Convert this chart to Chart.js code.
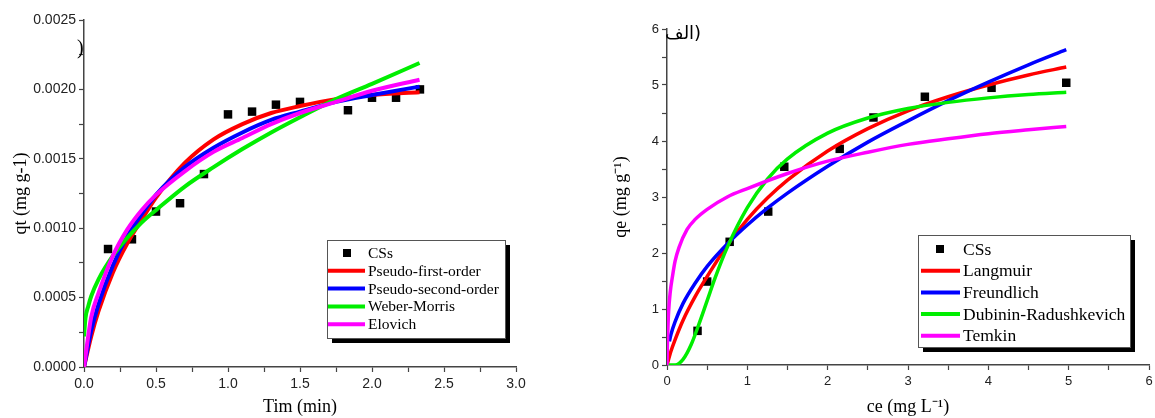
<!DOCTYPE html>
<html>
<head>
<meta charset="utf-8">
<script src="https://cdn.jsdelivr.net/npm/chart.js@4.4.0/dist/chart.umd.min.js"></script>
<style>
  html, body { margin: 0; padding: 0; background: #fff; }
  body { width: 1155px; height: 418px; position: relative; overflow: hidden; }
  #kinChart { position: absolute; left: 0; top: 0; }
  #isoChart { position: absolute; left: 580px; top: 0; }
</style>
</head>
<body>
<canvas id="kinChart" width="560" height="418"></canvas>
<canvas id="isoChart" width="575" height="418"></canvas>
<script>
// ---- kinetics (left) ----
const kinTime = [0.167, 0.333, 0.5, 0.667, 0.833, 1.0, 1.167, 1.333, 1.5, 1.833, 2.0, 2.167, 2.333];
const kinQt = [0.00085, 0.00092, 0.00112, 0.00118, 0.00139, 0.00182, 0.00184, 0.00189, 0.00191, 0.00185, 0.00194, 0.00194, 0.00200];

const fitTime = [0, 0.05, 0.1, 0.2, 0.3, 0.4, 0.5, 0.7, 0.9, 1.1, 1.3, 1.5, 1.75, 2.0, 2.33];
const pfoQt = [0, 0.00022, 0.00040, 0.00068, 0.00089, 0.00106, 0.00122, 0.00147, 0.00164, 0.00175, 0.00183, 0.00188, 0.00193, 0.00196, 0.00198];
const psoQt = [0, 0.00026, 0.00045, 0.00073, 0.00094, 0.00110, 0.00124, 0.00144, 0.00158, 0.00169, 0.00178, 0.00184, 0.00191, 0.00196, 0.00202];
const elovichQt = [0, 0.00036, 0.00053, 0.00080, 0.00099, 0.00113, 0.00124, 0.00141, 0.00155, 0.00165, 0.00175, 0.00183, 0.00191, 0.00199, 0.00207];
const wmTime = [0, 0.01, 0.03, 0.05, 0.1, 0.2, 0.3, 0.4, 0.5, 0.7, 0.9, 1.1, 1.3, 1.5, 1.75, 2.0, 2.33];
const wmQt = [0.00022, 0.00035, 0.00044, 0.00051, 0.00063, 0.00080, 0.00093, 0.00104, 0.00113, 0.00130, 0.00144, 0.00157, 0.00169, 0.00180, 0.00193, 0.00204, 0.00219];

// ---- isotherms (right) ----
const isoCe = [0.38, 0.5, 0.78, 1.26, 1.46, 2.15, 2.57, 3.21, 4.04, 4.97];
const isoQe = [0.61, 1.49, 2.2, 2.74, 3.54, 3.86, 4.42, 4.79, 4.95, 5.04];

const lgCe = [0, 0.05, 0.1, 0.2, 0.35, 0.5, 0.75, 1, 1.25, 1.5, 2, 2.5, 3, 3.5, 4, 4.5, 4.97];
const lgQe = [0, 0.25, 0.45, 0.8, 1.22, 1.58, 2.14, 2.6, 2.98, 3.3, 3.82, 4.22, 4.54, 4.79, 5.0, 5.18, 5.32];
const frCe = [0.03, 0.05, 0.1, 0.2, 0.35, 0.5, 0.75, 1, 1.25, 1.5, 2, 2.5, 3, 3.5, 4, 4.5, 4.97];
const frQe = [0.42, 0.55, 0.77, 1.10, 1.46, 1.76, 2.16, 2.50, 2.80, 3.07, 3.55, 3.98, 4.36, 4.72, 5.05, 5.36, 5.63];
const drCe = [0, 0.1, 0.2, 0.3, 0.4, 0.5, 0.6, 0.75, 1, 1.25, 1.5, 2, 2.5, 3, 3.5, 4, 4.5, 4.97];
const drQe = [0, 0.0, 0.1, 0.36, 0.74, 1.15, 1.56, 2.10, 2.81, 3.32, 3.68, 4.14, 4.41, 4.58, 4.69, 4.77, 4.83, 4.87];
const tkCe = [0, 0.005, 0.01, 0.02, 0.04, 0.07, 0.1, 0.15, 0.25, 0.35, 0.5, 0.75, 1, 1.5, 2, 2.5, 3, 3.5, 4, 4.5, 4.97];
const tkQe = [0, 0.35, 0.6, 0.95, 1.3, 1.6, 1.85, 2.1, 2.42, 2.6, 2.78, 3.0, 3.15, 3.42, 3.64, 3.8, 3.94, 4.04, 4.13, 4.2, 4.26];

function pts(xs, ys) {
  return xs.map((x, i) => ({ x: x, y: ys[i] }));
}

function curve(label, xs, ys, color, order, width) {
  return {
    label: label,
    data: pts(xs, ys),
    showLine: true,
    borderColor: color,
    borderWidth: width,
    pointRadius: 0,
    cubicInterpolationMode: 'monotone',
    order: order
  };
}

function markers(label, xs, ys) {
  return {
    label: label,
    data: pts(xs, ys),
    showLine: false,
    pointStyle: 'rect',
    pointRadius: 6,
    backgroundColor: '#000',
    borderWidth: 0,
    order: 10
  };
}

// legend box with drop shadow, drawn inside plot
const boxLegend = {
  id: 'boxLegend',
  afterDraw(chart, args, o) {
    const ctx = chart.ctx;
    ctx.save();
    ctx.fillStyle = '#000';
    ctx.fillRect(o.x + 5, o.y + 5, o.w, o.h);
    ctx.fillStyle = '#fff';
    ctx.fillRect(o.x, o.y, o.w, o.h);
    ctx.strokeStyle = '#555';
    ctx.lineWidth = 1;
    ctx.strokeRect(o.x + 0.5, o.y + 0.5, o.w, o.h);
    ctx.font = o.font;
    ctx.textBaseline = 'middle';
    // markers first in legend, then curves in dataset order
    const list = chart.data.datasets.slice().sort((a, b) => (a.showLine ? 1 : 0) - (b.showLine ? 1 : 0));
    list.forEach((ds, i) => {
      const cy = o.y + o.first + i * o.rowH;
      if (ds.showLine) {
        ctx.strokeStyle = ds.borderColor;
        ctx.lineWidth = 4;
        ctx.beginPath();
        ctx.moveTo(o.x + o.sw0, cy);
        ctx.lineTo(o.x + o.sw1, cy);
        ctx.stroke();
      } else {
        ctx.fillStyle = '#000';
        ctx.fillRect(o.x + o.mark - 4, cy - 4, 8, 8);
      }
      ctx.fillStyle = '#000';
      ctx.fillText(ds.label, o.x + o.textX, cy + 1);
    });
    ctx.restore();
  }
};

const strayText = {
  id: 'strayText',
  afterDraw(chart, args, o) {
    const ctx = chart.ctx;
    ctx.save();
    ctx.font = o.font;
    ctx.fillStyle = '#000';
    ctx.direction = o.dir || 'ltr';
    ctx.textAlign = o.align || 'left';
    ctx.fillText(o.text, o.x, o.y);
    ctx.restore();
  }
};

function axis(min, max, step, labelEvery, digits, title, titlePad, isY, size, tickSize) {
  return {
    type: 'linear',
    min: min,
    max: max,
    border: { display: true, color: '#444', width: 1.5 },
    grid: { display: true, drawOnChartArea: false, drawTicks: true, tickLength: 5, tickColor: '#444', tickWidth: 1.2 },
    ticks: {
      stepSize: step,
      autoSkip: false,
      maxRotation: 0,
      padding: isY ? 3 : 4,
      color: '#222',
      font: { family: 'Liberation Sans', size: tickSize },
      callback: (v) => {
        const r = v / labelEvery;
        return Math.abs(r - Math.round(r)) < 1e-6 ? v.toFixed(digits) : '';
      }
    },
    title: {
      display: true,
      text: title,
      color: '#000',
      font: { family: 'Liberation Serif', size: 18 },
      padding: titlePad
    },
    afterFit: (scale) => {
      if (isY) {
        scale.width = size;
        scale.paddingTop = 0;
        scale.paddingBottom = 0;
      } else {
        scale.height = size;
        scale.paddingLeft = 0;
        scale.paddingRight = 0;
      }
    }
  };
}

Chart.register(boxLegend, strayText);

new Chart(document.getElementById('kinChart').getContext('2d'), {
  type: 'scatter',
  data: {
    datasets: [
      markers('CSs', kinTime, kinQt),
      curve('Pseudo-first-order', fitTime, pfoQt, '#ff0000', 4, 4),
      curve('Pseudo-second-order', fitTime, psoQt, '#0000ff', 3, 4),
      curve('Weber-Morris', wmTime, wmQt, '#00ee00', 2, 4),
      curve('Elovich', fitTime, elovichQt, '#ff00ff', 1, 4)
    ]
  },
  options: {
    responsive: false,
    animation: false,
    layout: { padding: { left: 0, top: 20, right: 44, bottom: 0 } },
    scales: {
      x: axis(0, 3, 0.25, 0.5, 1, 'Tim (min)', { top: 0, bottom: 0 }, false, 51, 14),
      y: axis(0, 0.0025, 0.00025, 0.0005, 4, 'qt (mg g-1)', { top: 10, bottom: 0 }, true, 84, 14)
    },
    plugins: {
      legend: { display: false },
      tooltip: { enabled: false },
      boxLegend: { x: 327, y: 240, w: 178, h: 98, first: 13, rowH: 17.8, sw0: 1, sw1: 38, mark: 20, textX: 41, font: '15.5px "Liberation Serif"' },
      strayText: { text: ')', x: 77, y: 54, font: '20px "Liberation Serif"' }
    }
  }
});

new Chart(document.getElementById('isoChart').getContext('2d'), {
  type: 'scatter',
  data: {
    datasets: [
      markers('CSs', isoCe, isoQe),
      curve('Langmuir', lgCe, lgQe, '#ff0000', 4, 3.5),
      curve('Freundlich', frCe, frQe, '#0000ff', 3, 3.5),
      curve('Dubinin-Radushkevich', drCe, drQe, '#00ee00', 2, 3.5),
      curve('Temkin', tkCe, tkQe, '#ff00ff', 1, 3.5)
    ]
  },
  options: {
    responsive: false,
    animation: false,
    layout: { padding: { left: 0, top: 29, right: 5, bottom: 0 } },
    scales: {
      x: axis(0, 6, 0.5, 1, 0, 'ce (mg L\u207B\u00B9)', { top: 0, bottom: 0 }, false, 53, 13),
      y: axis(0, 6, 0.5, 1, 0, 'qe (mg g\u207B\u00B9)', { top: 30, bottom: 0 }, true, 87, 13)
    },
    plugins: {
      legend: { display: false },
      tooltip: { enabled: false },
      boxLegend: { x: 338, y: 235, w: 212, h: 112, first: 14, rowH: 21.7, sw0: 3, sw1: 42, mark: 22, textX: 45, font: '17.5px "Liberation Serif"' },
      strayText: { text: '(\u0627\u0644\u0641', x: 85, y: 39, font: '18px "DejaVu Sans"', dir: 'rtl', align: 'left' }
    }
  }
});
</script>
</body>
</html>
